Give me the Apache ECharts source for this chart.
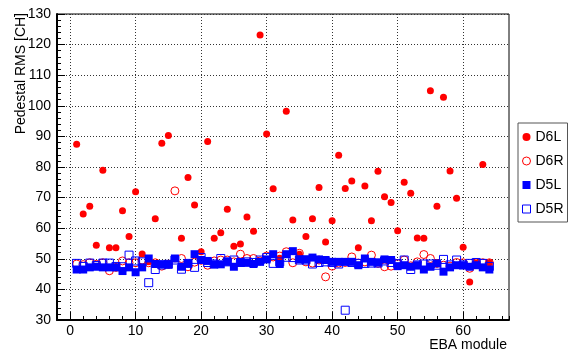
<!DOCTYPE html>
<html>
<head>
<meta charset="utf-8">
<script src="https://cdn.jsdelivr.net/npm/echarts@6/dist/echarts.min.js"></script>
<style>
  html, body { margin: 0; padding: 0; background: #fff; }
  #chart { width: 568px; height: 353px; }
</style>
</head>
<body>
<div id="chart"></div>
<script>
const modules = [1, 2, 3, 4, 5, 6, 7, 8, 9, 10, 11, 12, 13, 14, 15, 16,
  17, 18, 19, 20, 21, 22, 23, 24, 25, 26, 27, 28, 29, 30, 31, 32,
  33, 34, 35, 36, 37, 38, 39, 40, 41, 42, 43, 44, 45, 46, 47, 48,
  49, 50, 51, 52, 53, 54, 55, 56, 57, 58, 59, 60, 61, 62, 63, 64];

const d6l = [87.4, 64.6, 67.2, 54.4, 78.9, 53.6, 53.6, 65.7, 57.3, 71.9, 51.6, 49.0, 63.1, 87.8, 90.3, 50.0,
  56.7, 76.6, 67.6, 52.3, 88.3, 56.7, 58.5, 66.2, 54.1, 54.8, 63.7, 59.0, 123.1, 90.8, 72.9, 50.2,
  98.2, 62.7, 51.5, 57.3, 63.1, 73.3, 55.5, 62.4, 83.8, 73.0, 75.4, 53.6, 73.8, 62.4, 78.6, 70.3,
  68.4, 59.2, 75.0, 71.4, 56.8, 56.7, 104.9, 67.2, 102.8, 78.7, 69.8, 53.8, 42.4, 48.6, 80.8, 48.7];

const d6r = [48.3, 48.1, 48.7, 48.2, 48.7, 46.1, 47.2, 49.3, 48.7, 48.7, 49.6, 48.7, 48.7, 47.6, 48.2, 72.2,
  50.1, 47.4, 48.9, 49.5, 47.9, 49.3, 49.6, 49.6, 49.0, 51.5, 50.1, 50.1, 49.3, 50.9, 50.6, 50.9,
  52.3, 48.7, 51.8, 49.0, 48.6, 49.6, 44.1, 47.6, 48.6, 48.8, 50.6, 48.6, 49.0, 51.2, 48.5, 47.4,
  47.6, 48.4, 49.6, 47.7, 49.0, 51.4, 50.1, 48.5, 47.9, 47.6, 48.8, 48.7, 46.9, 48.7, 48.7, 48.7];

const d5l = [46.5, 46.5, 47.2, 47.4, 47.2, 47.2, 47.2, 46.0, 47.2, 45.6, 47.2, 50.1, 48.3, 48.2, 48.2, 50.1,
  47.4, 48.5, 51.5, 49.6, 49.3, 48.2, 48.2, 49.0, 47.4, 48.7, 48.7, 48.3, 49.0, 49.8, 51.5, 48.3,
  51.5, 52.5, 49.8, 49.8, 50.4, 49.8, 49.6, 49.0, 49.0, 49.0, 49.0, 47.9, 50.1, 49.0, 48.8, 49.8,
  49.6, 47.6, 47.9, 47.4, 47.9, 46.5, 47.4, 48.5, 45.8, 47.2, 47.9, 47.9, 47.4, 47.9, 47.2, 46.5];

const d5r = [48.5, 47.5, 48.6, 47.8, 48.6, 48.6, 47.5, 47.4, 51.2, 49.3, 49.0, 42.2, 46.5, 48.0, 48.2, 49.6,
  46.6, 48.5, 47.2, 50.4, 48.8, 48.3, 50.1, 49.0, 49.6, 48.8, 49.0, 48.8, 49.6, 50.4, 48.5, 49.0,
  50.5, 50.4, 49.6, 49.6, 48.3, 48.8, 49.0, 48.8, 48.3, 33.2, 48.8, 48.5, 48.5, 48.6, 48.6, 49.3,
  48.8, 48.4, 49.6, 46.5, 48.0, 48.3, 48.3, 47.9, 49.8, 48.0, 49.6, 48.0, 48.5, 48.8, 48.5, 47.5];

const xTicks = [0, 10, 20, 30, 40, 50, 60];

const FONT = "Liberation Sans, Arial, sans-serif";
const RED = "#ff0000";
const BLUE = "#0000ff";

function pairs(vals) {
  return modules.map((m, i) => [m, vals[i]]);
}

const chart = echarts.init(document.getElementById("chart"), null, { renderer: "canvas" });

const dotted = { color: "#333", width: 1, type: [1, 2] };

chart.setOption({
  animation: false,
  backgroundColor: "#fff",
  grid: {
    left: 57, right: 59, top: 14, bottom: 33,
    show: true, borderColor: "#000", borderWidth: 1, backgroundColor: "transparent"
  },
  xAxis: [
    {
      type: "value", min: -2, max: 67,
      axisLine: { show: true, onZero: false, lineStyle: { color: "#000", width: 2 } },
      axisTick: { show: true, inside: true, length: 8, customValues: xTicks, lineStyle: { color: "#000" } },
      axisLabel: {
        customValues: xTicks, margin: 4, color: "#000", fontSize: 14, fontFamily: FONT
      },
      splitLine: { show: true, lineStyle: dotted }
    },
    {
      type: "value", min: -2, max: 67, interval: 2, position: "bottom",
      axisLine: { show: false },
      axisTick: { show: true, inside: true, length: 4, lineStyle: { color: "#000" } },
      axisLabel: { show: false },
      splitLine: { show: false }
    }
  ],
  yAxis: {
    type: "value", min: 30, max: 130, interval: 10,
    axisLine: { show: true, onZero: false, lineStyle: { color: "#000", width: 2 } },
    axisTick: { show: true, inside: true, length: 8, lineStyle: { color: "#000" } },
    minorTick: { show: true, splitNumber: 5, length: 4, lineStyle: { color: "#000" } },
    axisLabel: { margin: 6, color: "#000", fontSize: 14, fontFamily: FONT },
    splitLine: { show: true, lineStyle: dotted }
  },
  legend: {
    orient: "vertical",
    left: 518, top: 123, width: 46,
    padding: [7, 4, 6, 4],
    itemGap: 10,
    itemWidth: 8, itemHeight: 8,
    itemTextGap: 3,
    borderColor: "#555", borderWidth: 1, backgroundColor: "#fff",
    textStyle: { color: "#000", fontSize: 14, fontFamily: FONT },
    data: [
      { name: "D6L", icon: "circle", itemStyle: { color: RED } },
      { name: "D6R", icon: "circle", itemStyle: { color: "transparent", borderColor: RED, borderWidth: 1 } },
      { name: "D5L", icon: "rect", itemStyle: { color: BLUE } },
      { name: "D5R", icon: "rect", itemStyle: { color: "transparent", borderColor: BLUE, borderWidth: 1 } }
    ]
  },
  graphic: [
    {
      type: "text", left: 14, top: 13,
      style: { text: "Pedestal RMS [CH]", fill: "#000", font: "14px " + FONT },
      rotation: Math.PI / 2,
      originX: 0, originY: 0
    },
    {
      type: "text", right: 61, top: 338,
      style: { text: "EBA module", fill: "#000", font: "14px " + FONT }
    }
  ],
  series: [
    {
      name: "D6L", type: "scatter", data: pairs(d6l),
      symbol: "circle", symbolSize: 7,
      itemStyle: { color: RED, opacity: 1 }
    },
    {
      name: "D6R", type: "scatter", data: pairs(d6r),
      symbol: "circle", symbolSize: 8,
      itemStyle: { color: "transparent", borderColor: RED, borderWidth: 1, opacity: 1 }
    },
    {
      name: "D5L", type: "scatter", data: pairs(d5l),
      symbol: "rect", symbolSize: 8,
      itemStyle: { color: BLUE, opacity: 1 }
    },
    {
      name: "D5R", type: "scatter", data: pairs(d5r),
      symbol: "rect", symbolSize: 8,
      itemStyle: { color: "transparent", borderColor: BLUE, borderWidth: 1, opacity: 1 }
    }
  ]
});
</script>
</body>
</html>
